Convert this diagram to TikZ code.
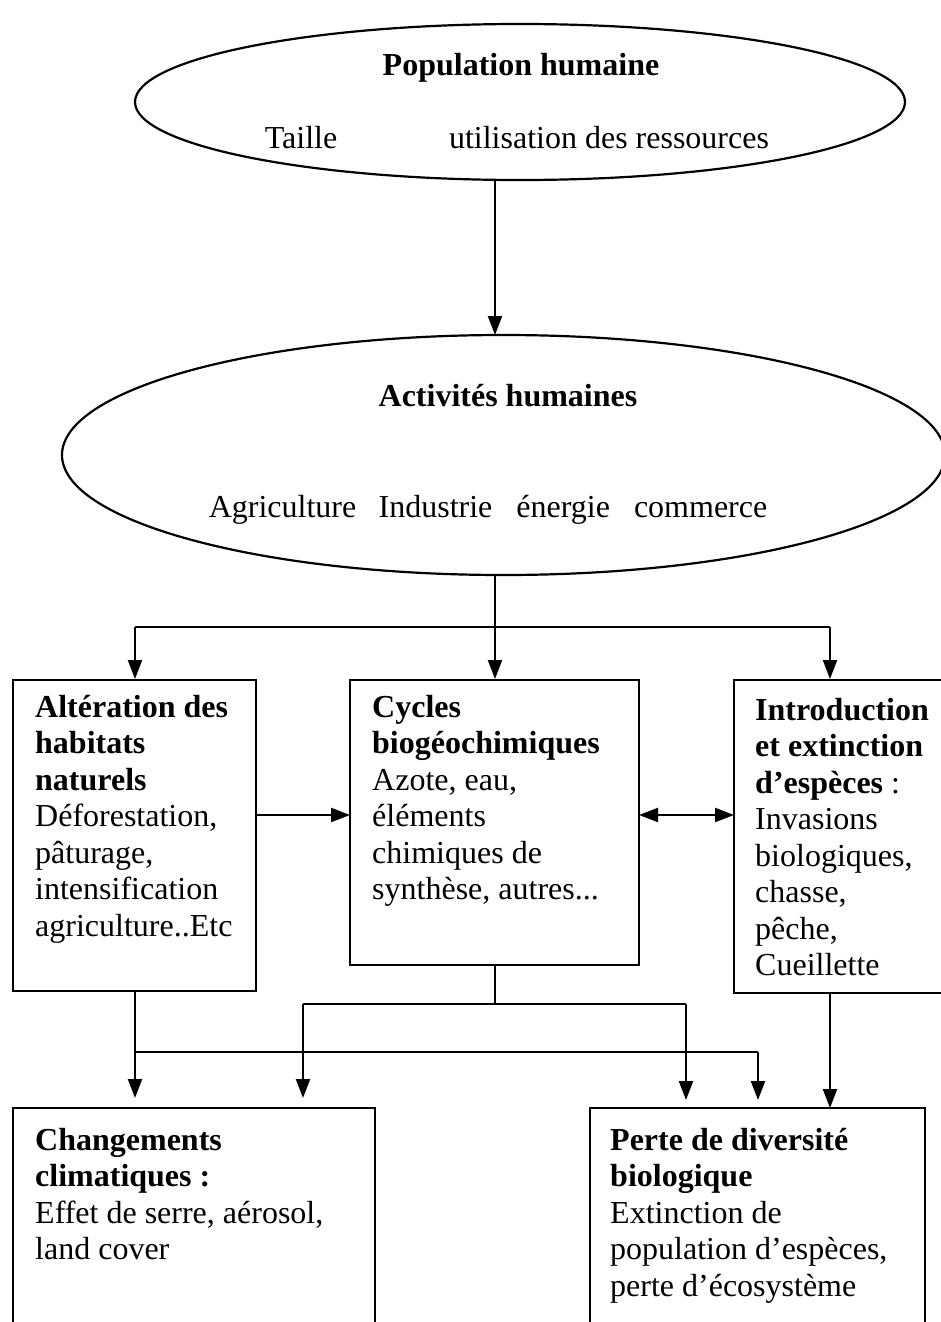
\documentclass[tikz,border=0pt]{standalone}
\usepackage{fontspec}
\setmainfont{Liberation Serif}
\usetikzlibrary{shapes.geometric,arrows.meta}
\tikzset{
  lw/.style={line width=2.2pt},
  arr/.style={lw,-{Triangle[width=14pt,length=19pt]}},
  darr/.style={lw,{Triangle[width=14pt,length=19pt]}-{Triangle[width=14pt,length=19pt]}},
  ell/.style={ellipse,draw,lw,inner sep=0pt},
  box/.style={draw,lw,inner sep=0pt},
  txt/.style={inner sep=0pt,align=left,font=\fontsize{32}{36.5}\selectfont},
}
\begin{document}
\begin{tikzpicture}[x=1pt,y=-1pt]
\useasboundingbox (0,0) rectangle (940,1322);
% ellipses
\node[ell,minimum width=770pt,minimum height=156pt] (pop) at (520,102) {};
\node[ell,minimum width=883pt,minimum height=240pt] (act) at (503.5,455) {};
\node[txt,anchor=base] (popt) at (521,76) {\bfseries Population humaine};
\node[txt,anchor=base] (taille) at (301,148) {Taille};
\node[txt,anchor=base] (util) at (609,148) {utilisation des ressources};
\node[txt,anchor=base] (actt) at (508,406) {\bfseries Activités humaines};
\node[txt,anchor=base] (actl) at (488,517) {Agriculture\hspace{0.7em}Industrie\hspace{0.75em}énergie\hspace{0.75em}commerce};
% boxes
\draw[box] (13,680) rectangle (256,991);
\coordinate (Atop) at (135,680); \coordinate (Abot) at (135,991);
\draw[box] (350,680) rectangle (639,965);
\draw[box] (734,680) rectangle (960,993);
\draw[box] (13,1108) rectangle (375,1340);
\draw[box] (590,1108) rectangle (925,1340);
\node[txt,anchor=north west] (A) at (35,691.45) {\strut\bfseries Altération des\\\bfseries habitats\\\bfseries naturels\\Déforestation,\\pâturage,\\intensification\\agriculture..Etc};
\node[txt,anchor=north west] (B) at (372,691.45) {\strut\bfseries Cycles\\\bfseries biogéochimiques\\Azote, eau,\\éléments\\chimiques de\\synthèse, autres...};
\node[txt,anchor=north west] (C) at (755,694.5) {\strut\bfseries Introduction\\\bfseries et extinction\\\textbf{d’espèces} :\\Invasions\\biologiques,\\chasse,\\pêche,\\Cueillette};
\node[txt,anchor=north west] (D) at (35,1124.5) {\strut\bfseries Changements\\\bfseries climatiques :\\Effet de serre, aérosol,\\land cover};
\node[txt,anchor=north west] (E) at (610,1124.5) {\strut\bfseries Perte de diversité\\\bfseries biologique\\Extinction de\\population d’espèces,\\perte d’écosystème};
% coordinates for connectors
\coordinate (p1) at (495,180);
\coordinate (p2) at (495,335);
\coordinate (a1) at (495,575);
\coordinate (j1) at (495,627);
\coordinate (l1) at (135,627);
\coordinate (r1) at (830,627);
\coordinate (tA) at (135,679);
\coordinate (tB) at (495,679);
\coordinate (tC) at (830,679);
\coordinate (ar) at (256,815);
\coordinate (bl) at (350,815);
\coordinate (br) at (639,815);
\coordinate (cl) at (734,815);
\coordinate (bb) at (495,965);
\coordinate (bj) at (495,1004);
\coordinate (bjl) at (303,1004);
\coordinate (bjr) at (686,1004);
\coordinate (tDa) at (303,1098);
\coordinate (tEa) at (686,1100);
\coordinate (aj) at (135,1052);
\coordinate (ajr) at (758,1052);
\coordinate (tD) at (135,1098);
\coordinate (tEb) at (758,1100);
\coordinate (cb) at (830,993);
\coordinate (tEc) at (830,1108);
% connectors
\draw[arr] (p1) -- (p2);
\draw[lw] (a1) -- (j1);
\draw[lw] (l1) -- (r1);
\draw[arr] (l1) -- (tA);
\draw[arr] (j1) -- (tB);
\draw[arr] (r1) -- (tC);
\draw[arr] (ar) -- (bl);
\draw[darr] (br) -- (cl);
\draw[lw] (bb) -- (bj);
\draw[lw] (bjl) -- (bjr);
\draw[arr] (bjl) -- (tDa);
\draw[arr] (bjr) -- (tEa);
\draw[arr] (Abot) -- (tD);
\draw[lw] (aj) -- (ajr);
\draw[arr] (ajr) -- (tEb);
\draw[arr] (cb) -- (tEc);
\end{tikzpicture}
\end{document}
